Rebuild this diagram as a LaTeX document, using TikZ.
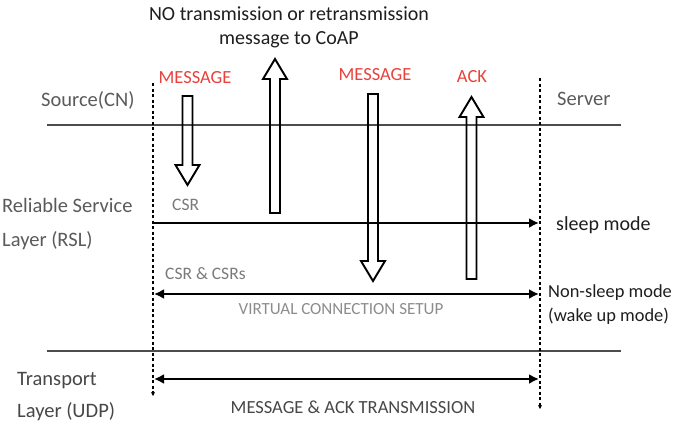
\documentclass[tikz,border=0pt]{standalone}
\usepackage{fontspec}
\setmainfont{Carlito}
\usetikzlibrary{arrows.meta,positioning}

\definecolor{msgred}{HTML}{E8413C}
\definecolor{namegray}{HTML}{5A5A5A}
\definecolor{darktext}{HTML}{1E1E1E}
\definecolor{csrgray}{HTML}{7A7A7A}
\definecolor{setupgray}{HTML}{8C8C8C}

\tikzset{
  layer/.style={draw=black!70, line width=1.3pt},
  timeline/.style={line width=1.9pt, dash pattern=on 3pt off 2.5pt,
    -{Stealth[length=4pt,width=4pt]}},
  hollow/.style={draw, line width=1.9pt, line join=miter},
  mode/.style={line width=2.8pt, -{Latex[length=10pt,width=10pt]}},
  twoway/.style={line width=2.8pt,
    {Latex[length=10pt,width=10pt]}-{Latex[length=10pt,width=10pt]}},
  layername/.style={text=namegray, font=\fontsize{20.5}{24}\selectfont},
  note/.style={text=darktext, font=\fontsize{20}{24}\selectfont},
  msg/.style={text=msgred, font=\fontsize{18.5}{22}\selectfont},
  csr/.style={text=csrgray, font=\fontsize{17.5}{21}\selectfont},
}

% hollow block arrow: x, tail y, tip y
\newcommand{\bigarrow}[3]{%
  \pgfmathsetmacro{\neck}{#3-20*sign(#3-#2)}
  \draw[hollow] (#1-5,#2) -- (#1-5,\neck) -- (#1-12,\neck) -- (#1,#3)
    -- (#1+12,\neck) -- (#1+5,\neck) -- (#1+5,#2) -- cycle;}

\begin{document}
\begin{tikzpicture}[x=1pt,y=-1pt,every node/.style={inner sep=0pt}]
  \useasboundingbox (0,0) rectangle (673,423);

  % layer boundaries
  \coordinate (l1w) at (47,125);
  \coordinate (l1e) at (621,125);
  \coordinate (l2w) at (47,351);
  \coordinate (l2e) at (621,351);
  \draw[layer] (l1w) -- (l1e);
  \draw[layer] (l2w) -- (l2e);

  % time lines of both ends
  \coordinate (cntop) at (153,83);
  \coordinate (cnbot) at (153,396);
  \coordinate (svtop) at (540,78);
  \coordinate (svbot) at (540,409);
  \draw[timeline] (cntop) -- (cnbot);
  \draw[timeline] (svtop) -- (svbot);

  % layer names
  \node[layername, anchor=west] (cn) at (41,100) {Source(CN)};
  \node[layername, anchor=west] (server) at (557,99) {Server};
  \node[layername, anchor=west] (rsl) at (2,205) {Reliable Service};
  \node[layername, below=19pt of rsl.south west, anchor=north west] (rsl2) {Layer (RSL)};
  \node[layername, text=black!72, anchor=west] (udp) at (17,381) {Transport};
  \node[layername, text=black!72, below=13pt of udp.south west, anchor=north west] (udp2) {Layer (UDP)};

  \node[note, align=center] (coap) at (289,27) {NO transmission or retransmission\\message to CoAP};

  % messages
  \node[msg] (msg1) at (195,78) {MESSAGE};
  \node[msg] (msg2) at (375,75) {MESSAGE};
  \node[msg] (ack) at (472,77) {ACK};
  \bigarrow{187.5}{96}{185}
  \bigarrow{275}{213}{59}
  \bigarrow{373}{94}{281}
  \bigarrow{471.5}{279}{97}

  % modes
  \node[csr, anchor=west] (csr) at (172,205) {CSR};
  \node[csr, anchor=west] (csrs) at (165,274) {CSR \& CSRs};
  \node[note, anchor=west] (sleep) at (556,225) {sleep mode};
  \node[note, font=\fontsize{18.4}{22}\selectfont, anchor=west] (wake) at (548,293) {Non-sleep mode};
  \node[note, font=\fontsize{18.4}{22}\selectfont, below=7pt of wake.south west, anchor=north west] (wake2) {(wake up mode)};
  \node[text=setupgray, font=\fontsize{17}{20}\selectfont] (setup) at (341,309) {VIRTUAL CONNECTION SETUP};
  \node[text=black!72, font=\fontsize{18.5}{22}\selectfont] (trans) at (353,407) {MESSAGE \& ACK TRANSMISSION};

  \coordinate (sleepa) at (153,223);
  \coordinate (sleepb) at (539,223);
  \coordinate (wakea) at (154,294);
  \coordinate (wakeb) at (539,294);
  \coordinate (udpa) at (154,379);
  \coordinate (udpb) at (539,379);
  \draw[mode] (sleepa) -- (sleepb);
  \draw[twoway] (wakea) -- (wakeb);
  \draw[twoway] (udpa) -- (udpb);
\end{tikzpicture}
\end{document}
